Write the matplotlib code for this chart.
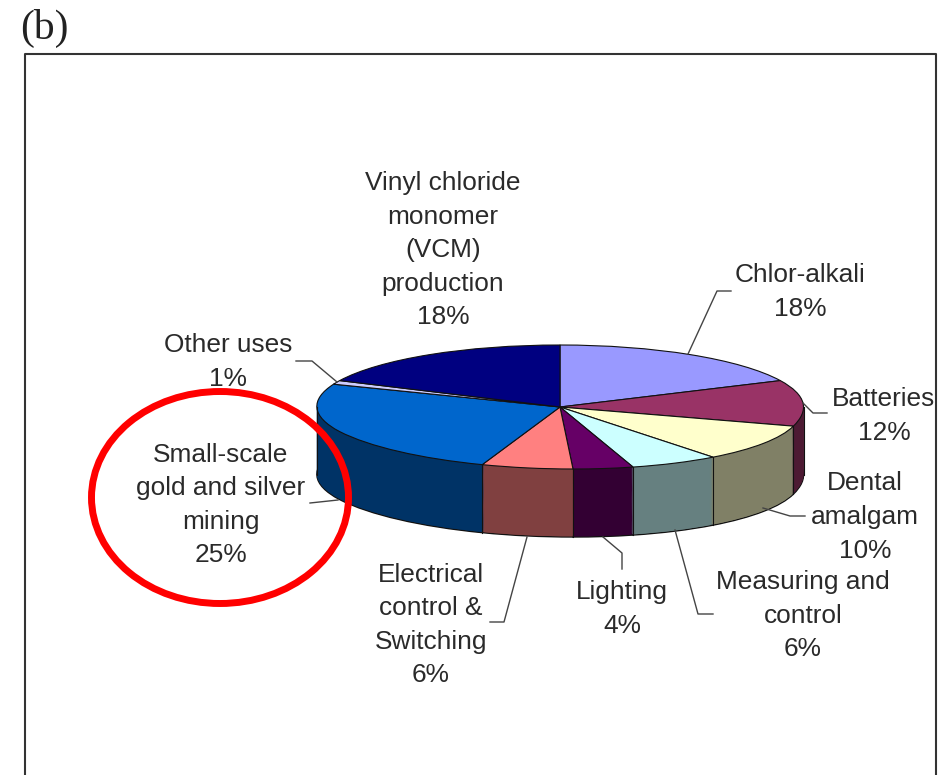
import numpy as np
import matplotlib
matplotlib.use("Agg")
import matplotlib.pyplot as plt
from matplotlib.patches import Ellipse
from matplotlib.transforms import Transform

# slices, clockwise from 12 o'clock
values = [18, 12, 10, 6, 4, 6, 25, 1, 18]
top_colors = ['#9999FF', '#993366', '#FFFFCC', '#CCFFFF', '#660066',
              '#FF8080', '#0066CC', '#CCCCFF', '#000080']
side_colors = ['#4D4D80', '#4D1A33', '#808066', '#668080', '#330033',
               '#804040', '#003366', '#666680', '#000040']

labels = ['Chlor-alkali\n18%', 'Batteries\n12%', 'Dental\namalgam\n10%',
          'Measuring and\ncontrol\n6%', 'Lighting\n4%',
          'Electrical\ncontrol &\nSwitching\n6%',
          'Small-scale\ngold and silver\nmining\n25%', 'Other uses\n1%',
          'Vinyl chloride\nmonomer\n(VCM)\nproduction\n18%']
label_pos = [(800, 292), (884, 416), (865, 517), (803, 616), (622, 609),
             (431, 625), (221, 505), (228, 362), (443, 250)]

# leader lines, in picture pixels
leaders = [[(688, 354), (717, 291), (731, 291)],
           [(803, 403), (813, 413), (827, 413)],
           [(763, 508), (790, 516), (805, 516)],
           [(675, 530), (698, 614), (713, 614)],
           [(603, 537), (622, 553), (622, 569)],
           [(527, 537), (504, 622), (490, 622)],
           [(310, 503), (338, 500)],
           [(296, 361), (312, 361), (337, 382)]]

W, H = 942, 775
cx, cy = 560, 407      # pie centre
rx, ry = 243.5, 62     # pixels per pie unit
depth = 68 / ry
lean = 0.0667          # front of the pie leans right (excel's 3d view)
lean_from = 0.2


class Lean(Transform):
    input_dims = output_dims = 2

    def __init__(self, y0):
        super().__init__()
        self.y0 = y0

    def transform_non_affine(self, xy):
        xy = np.array(xy, dtype=float)
        xy[:, 0] += lean * np.clip(self.y0 - xy[:, 1] - lean_from, 0, None)
        return xy


plt.rcParams['font.family'] = ['Liberation Sans', 'DejaVu Sans']
fig = plt.figure(figsize=(W / 100, H / 100), dpi=100)

# pie axes: unit circle squashed into an ellipse
pad, low = 1.1, 2.3
ax = fig.add_axes([(cx - pad * rx) / W, (H - cy - low * ry) / H,
                   2 * pad * rx / W, (pad + low) * ry / H])


def layer(colors, off, edge, lw):
    wedges, _ = ax.pie(values, colors=colors, startangle=90, counterclock=False,
                       center=(0, -off),
                       wedgeprops=dict(edgecolor=edge, linewidth=lw))
    for w in wedges:
        w.set_transform(Lean(-off) + ax.transData)


# bottom rim with its outline, then the wall, then the top face
layer(side_colors, depth, '#111111', 1.0)
for off in np.linspace(depth - 0.01, 0.01, 70):
    layer(side_colors, off, 'none', 0)

# vertical seams on the visible part of the wall
theta = np.deg2rad(np.cumsum(values) * 3.6)
for t in theta:
    if np.cos(t) < 0:
        x = np.sin(t) + lean * max(-np.cos(t) - lean_from, 0)
        ax.plot([x, x], [np.cos(t), np.cos(t) - depth], color='#111111', lw=0.8)
for x in (-1, 1):
    ax.plot([x, x], [0, -depth], color='#111111', lw=0.8)

layer(top_colors, 0, '#111111', 0.8)
ax.set_aspect('auto')
ax.set_xlim(-pad, pad)
ax.set_ylim(-low, pad)
ax.patch.set_alpha(0)

# overlay in picture pixels
over = fig.add_axes([0, 0, 1, 1])
over.set_xlim(0, W)
over.set_ylim(H, 0)
over.axis('off')

over.plot([25, 25, 936, 936], [H, 54, 54, H], color='#333333', lw=1.5)
over.text(44, 28, '(b)', family='Liberation Serif', fontsize=30,
          ha='center', va='center', color='#222222')

for pts in leaders:
    over.plot(*zip(*pts), color='#444444', lw=1.0)

for txt, (x, y) in zip(labels, label_pos):
    over.text(x, y, txt, ha='center', va='center', ma='center',
              fontsize=18.9, color='#2a2a2a', linespacing=1.5)

over.add_patch(Ellipse((220, 497.5), 257, 212, fill=False,
                       edgecolor='#FF0000', lw=5))

fig.savefig('out.png', dpi=100)
